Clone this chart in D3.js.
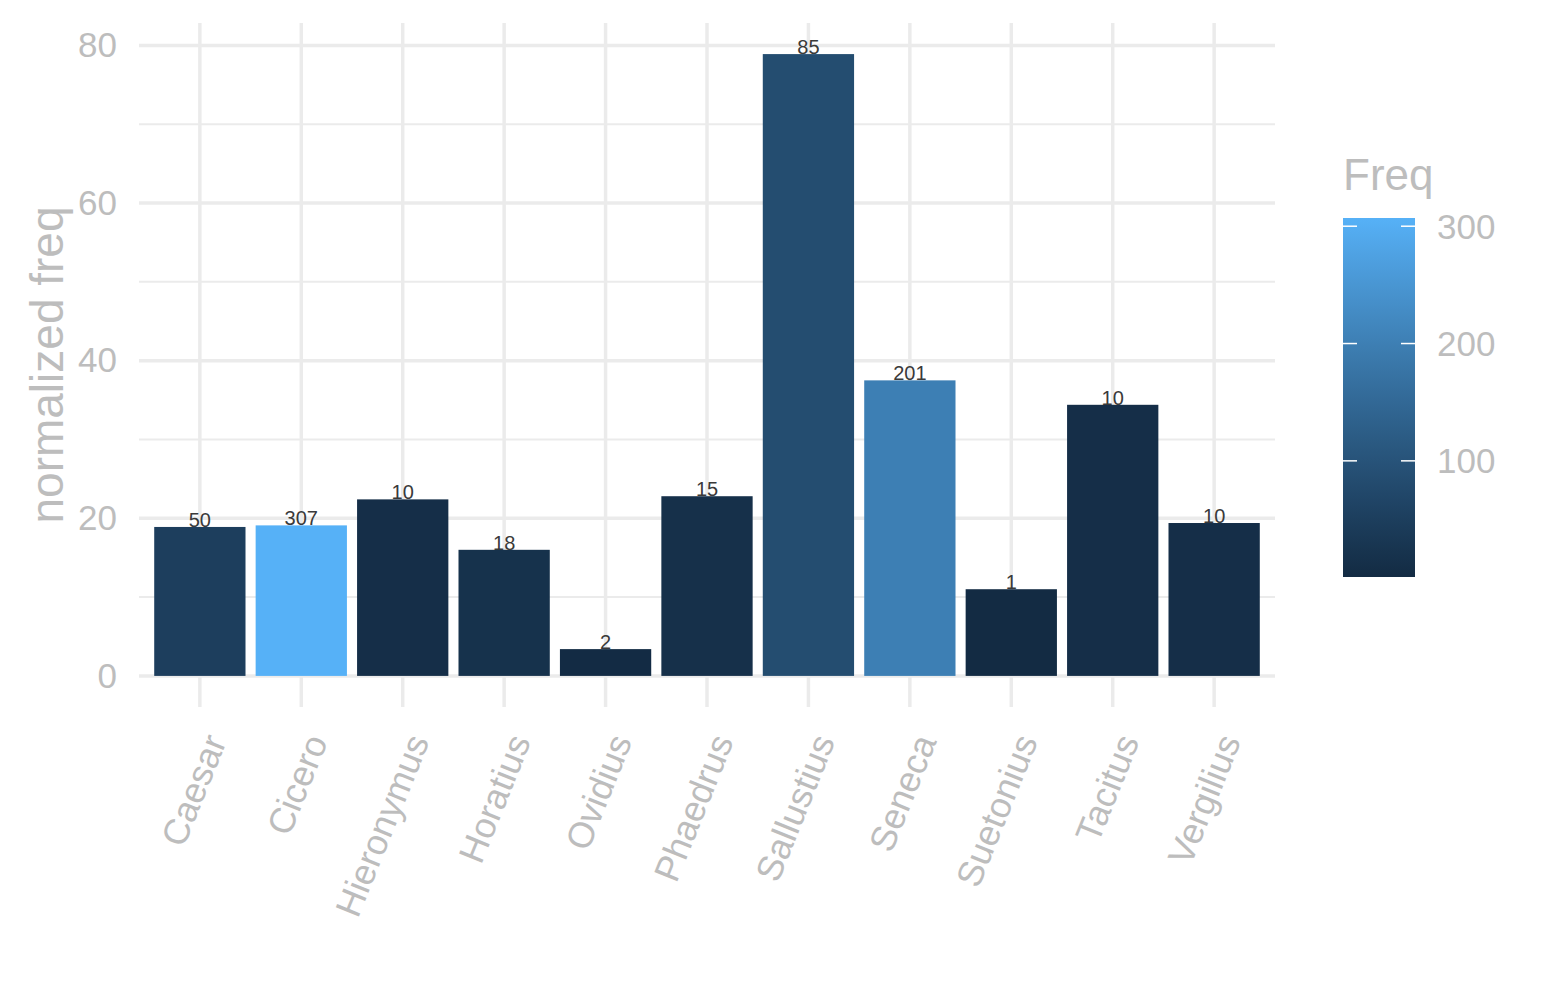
<!DOCTYPE html>
<html>
<head>
<meta charset="utf-8">
<script src="https://cdn.jsdelivr.net/npm/d3@7"></script>
<style>
  body { margin: 0; background: #fff; }
  svg text { font-family: "Liberation Sans", Arial, sans-serif; }
</style>
</head>
<body>
<div id="chart"></div>
<script>
// authors on the x axis
var authors = ["Caesar", "Cicero", "Hieronymus", "Horatius", "Ovidius", "Phaedrus",
    "Sallustius", "Seneca", "Suetonius", "Tacitus", "Vergilius"];
// bar heights (normalized freq)
var normFreq = [18.9, 19.1, 22.4, 16.0, 3.4, 22.8, 78.9, 37.5, 11.0, 34.4, 19.4];
// raw counts, used for fill colour and labels
var freq = [50, 307, 10, 18, 2, 15, 85, 201, 1, 10, 10];
var yTicks = [0, 20, 40, 60, 80];
var yMinor = [10, 30, 50, 70];
var legendTicks = [100, 200, 300];

var W = 1545, H = 1000;
var panel = {left: 139, right: 1275, top: 23, bottom: 707};
var grey = "#bdbdbd";

var svg = d3.select("#chart").append("svg")
    .attr("width", W)
    .attr("height", H);

// x: discrete, ggplot style 0.6 expansion on each side
var x = d3.scaleBand()
    .domain(authors)
    .range([panel.left, panel.right])
    .paddingInner(0.1)
    .paddingOuter(0.15);

// y: 5% expansion of the data range
var yMax = d3.max(normFreq);
var y = d3.scaleLinear()
    .domain([-yMax * 0.05, yMax * 1.05])
    .range([panel.bottom, panel.top]);

var color = d3.scaleLinear()
    .domain(d3.extent(freq))
    .range(["#132B43", "#56B1F7"])
    .interpolate(d3.interpolateLab);

// grid lines
var grid = svg.append("g");
grid.selectAll(".minor").data(yMinor).enter().append("line")
    .attr("x1", panel.left).attr("x2", panel.right)
    .attr("y1", function(d) { return y(d); })
    .attr("y2", function(d) { return y(d); })
    .attr("stroke", "#ebebeb").attr("stroke-width", 2);
grid.selectAll(".major").data(yTicks).enter().append("line")
    .attr("x1", panel.left).attr("x2", panel.right)
    .attr("y1", function(d) { return y(d); })
    .attr("y2", function(d) { return y(d); })
    .attr("stroke", "#ebebeb").attr("stroke-width", 3.5);
grid.selectAll(".vert").data(authors).enter().append("line")
    .attr("x1", function(d) { return x(d) + x.bandwidth() / 2; })
    .attr("x2", function(d) { return x(d) + x.bandwidth() / 2; })
    .attr("y1", panel.top).attr("y2", panel.bottom)
    .attr("stroke", "#ebebeb").attr("stroke-width", 3.5);

// bars
var rows = authors.map(function(a, i) {
    return {name: a, value: normFreq[i], freq: freq[i]};
});

svg.append("g").selectAll("rect").data(rows).enter().append("rect")
    .attr("x", function(d) { return x(d.name); })
    .attr("width", x.bandwidth())
    .attr("y", function(d) { return y(d.value); })
    .attr("height", function(d) { return y(0) - y(d.value); })
    .attr("fill", function(d) { return color(d.freq); });

// count labels on top of the bars
svg.append("g").selectAll("text").data(rows).enter().append("text")
    .attr("x", function(d) { return x(d.name) + x.bandwidth() / 2; })
    .attr("y", function(d) { return y(d.value); })
    .attr("text-anchor", "middle")
    .attr("font-size", 20)
    .attr("fill", "#3a3a3a")
    .text(function(d) { return d.freq; });

// y axis
var yAxis = svg.append("g")
    .attr("transform", "translate(" + (panel.left - 6) + ",0)")
    .call(d3.axisLeft(y).tickValues(yTicks).tickSize(0).tickPadding(16));
yAxis.select(".domain").remove();
yAxis.selectAll("text")
    .attr("font-size", 35)
    .attr("fill", grey)
    .style("font-family", "'Liberation Sans', Arial, sans-serif");

// x axis, labels turned 68 degrees
var xAxis = svg.append("g")
    .attr("transform", "translate(2," + (panel.bottom + 24) + ")")
    .call(d3.axisBottom(x).tickSize(0).tickPadding(0));
xAxis.select(".domain").remove();
xAxis.selectAll("text")
    .attr("font-size", 36)
    .attr("fill", grey)
    .style("font-family", "'Liberation Sans', Arial, sans-serif")
    .attr("text-anchor", "end")
    .attr("dy", "0.75em")
    .attr("transform", "rotate(-68)");

// axis title
svg.append("text")
    .attr("transform", "translate(63," + ((panel.top + panel.bottom) / 2) + ") rotate(-90)")
    .attr("text-anchor", "middle")
    .attr("font-size", 46)
    .attr("fill", grey)
    .text("normalized freq");

// legend colour bar
var leg = {x: 1343, w: 72, top: 218, bottom: 577};
var ly = d3.scaleLinear().domain(d3.extent(freq)).range([leg.bottom, leg.top]);

var grad = svg.append("defs").append("linearGradient")
    .attr("id", "freqGrad")
    .attr("x1", "0").attr("y1", "1").attr("x2", "0").attr("y2", "0");
d3.range(0, 1.0001, 0.1).forEach(function(t) {
    grad.append("stop")
        .attr("offset", t)
        .attr("stop-color", color(ly.domain()[0] + t * (ly.domain()[1] - ly.domain()[0])));
});

svg.append("rect")
    .attr("x", leg.x).attr("y", leg.top)
    .attr("width", leg.w).attr("height", leg.bottom - leg.top)
    .attr("fill", "url(#freqGrad)");

var lt = svg.append("g");
legendTicks.forEach(function(v) {
    lt.append("line")
        .attr("x1", leg.x).attr("x2", leg.x + 14)
        .attr("y1", ly(v)).attr("y2", ly(v))
        .attr("stroke", "#fff").attr("stroke-width", 1.5);
    lt.append("line")
        .attr("x1", leg.x + leg.w - 14).attr("x2", leg.x + leg.w)
        .attr("y1", ly(v)).attr("y2", ly(v))
        .attr("stroke", "#fff").attr("stroke-width", 1.5);
    lt.append("text")
        .attr("x", leg.x + leg.w + 22)
        .attr("y", ly(v))
        .attr("dy", "0.36em")
        .attr("font-size", 35)
        .attr("fill", grey)
        .text(v);
});

svg.append("text")
    .attr("x", leg.x)
    .attr("y", 190)
    .attr("font-size", 44)
    .attr("fill", grey)
    .text("Freq");
</script>
</body>
</html>
